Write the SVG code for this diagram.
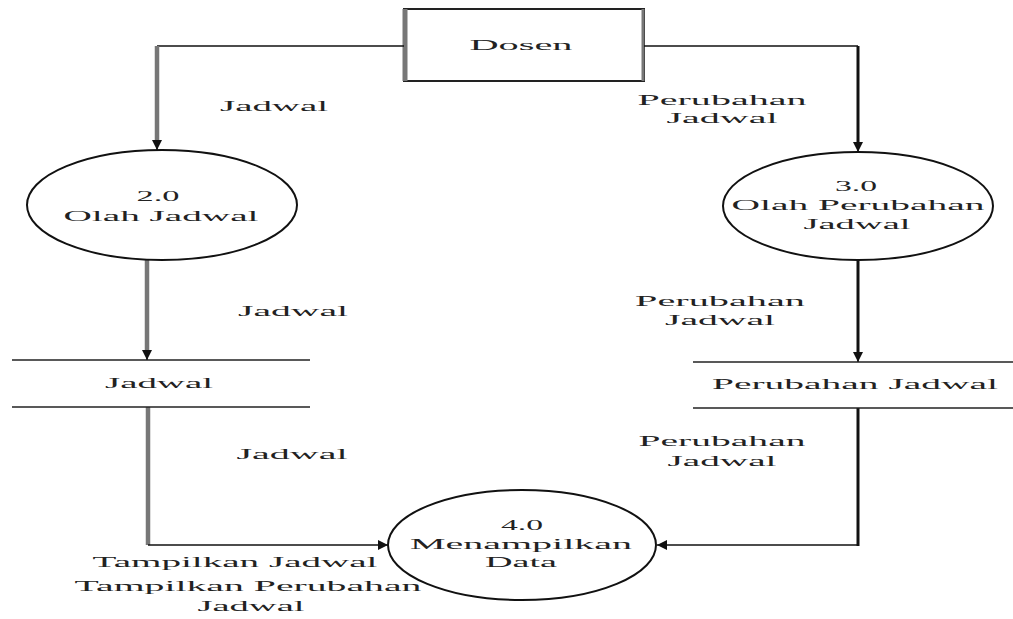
<svg xmlns="http://www.w3.org/2000/svg" width="1013" height="619" viewBox="0 0 1013 619">
  <style>
    text { font-family: "Liberation Serif", "Times New Roman", serif; font-size: 15px; fill: #222; text-anchor: middle; }
    .proc { fill: #fff; stroke: #111; stroke-width: 2; }
    .store { stroke: #222; stroke-width: 1.6; }
    .flow { fill: none; stroke: #111; stroke-width: 1.6; }
    .flow-grey { fill: none; stroke: #777; stroke-width: 4.5; }
    .flow-bold { fill: none; stroke: #111; stroke-width: 3; }
  </style>
  <defs>
    <marker id="arrow" viewBox="0 0 10 10" refX="10" refY="5" markerWidth="10" markerHeight="10" markerUnits="userSpaceOnUse" orient="auto">
      <path d="M0,0 L10,5 L0,10 z" fill="#111"/>
    </marker>
  </defs>

  <!-- external entity -->
  <g id="dosen">
    <rect x="404" y="9" width="240" height="72" fill="#fff" stroke="#222" stroke-width="2"/>
    <line x1="405" y1="9" x2="405" y2="81" stroke="#777" stroke-width="5"/>
    <line x1="643" y1="9" x2="643" y2="81" stroke="#777" stroke-width="3"/>
    <text x="521" y="50" textLength="103" lengthAdjust="spacingAndGlyphs">Dosen</text>
  </g>

  <!-- connectors -->
  <g id="connectors">
    <path class="flow" d="M404,46 H157"/>
    <path class="flow-grey" d="M157,46 V142"/>
    <path class="flow" d="M157,140 V150" marker-end="url(#arrow)"/>

    <path class="flow" d="M644,46 H858"/>
    <path class="flow-bold" d="M858,46 V144" />
    <path class="flow" d="M858,142 V152" marker-end="url(#arrow)"/>

    <path class="flow-grey" d="M147,260 V352"/>
    <path class="flow" d="M147,350 V360" marker-end="url(#arrow)"/>

    <path class="flow-bold" d="M858,260 V354"/>
    <path class="flow" d="M858,352 V362" marker-end="url(#arrow)"/>

    <path class="flow-grey" d="M148,407 V545"/>
    <path class="flow" d="M148,545 H388" marker-end="url(#arrow)"/>

    <path class="flow-bold" d="M858,408 V546"/>
    <path class="flow" d="M858,545 H657" marker-end="url(#arrow)"/>

    <!-- flow labels -->
    <text x="274" y="111" textLength="108" lengthAdjust="spacingAndGlyphs">Jadwal</text>
    <text x="722" y="105" textLength="169" lengthAdjust="spacingAndGlyphs">Perubahan</text>
    <text x="722" y="123" textLength="111" lengthAdjust="spacingAndGlyphs">Jadwal</text>
    <text x="293" y="316" textLength="110" lengthAdjust="spacingAndGlyphs">Jadwal</text>
    <text x="720" y="306" textLength="170" lengthAdjust="spacingAndGlyphs">Perubahan</text>
    <text x="720" y="325" textLength="110" lengthAdjust="spacingAndGlyphs">Jadwal</text>
    <text x="292" y="459" textLength="111" lengthAdjust="spacingAndGlyphs">Jadwal</text>
    <text x="722" y="446" textLength="167" lengthAdjust="spacingAndGlyphs">Perubahan</text>
    <text x="722" y="466" textLength="109" lengthAdjust="spacingAndGlyphs">Jadwal</text>
    <text x="235" y="567" textLength="285" lengthAdjust="spacingAndGlyphs">Tampilkan Jadwal</text>
    <text x="248" y="591" textLength="347" lengthAdjust="spacingAndGlyphs">Tampilkan Perubahan</text>
    <text x="251" y="611" textLength="107" lengthAdjust="spacingAndGlyphs">Jadwal</text>
  </g>

  <!-- processes -->
  <g id="proc-2">
    <ellipse class="proc" cx="162" cy="205" rx="135" ry="55"/>
    <text x="158" y="201" textLength="43" lengthAdjust="spacingAndGlyphs">2.0</text>
    <text x="161" y="221" textLength="195" lengthAdjust="spacingAndGlyphs">Olah Jadwal</text>
  </g>

  <g id="proc-3">
    <ellipse class="proc" cx="858" cy="206" rx="135" ry="54"/>
    <text x="856" y="191" textLength="42" lengthAdjust="spacingAndGlyphs">3.0</text>
    <text x="858" y="210" textLength="253" lengthAdjust="spacingAndGlyphs">Olah Perubahan</text>
    <text x="857" y="229" textLength="107" lengthAdjust="spacingAndGlyphs">Jadwal</text>
  </g>

  <g id="proc-4">
    <ellipse class="proc" cx="522" cy="545" rx="134" ry="55"/>
    <text x="522" y="530" textLength="42" lengthAdjust="spacingAndGlyphs">4.0</text>
    <text x="521" y="549" textLength="222" lengthAdjust="spacingAndGlyphs">Menampilkan</text>
    <text x="521" y="567" textLength="72" lengthAdjust="spacingAndGlyphs">Data</text>
  </g>

  <!-- data stores -->
  <g id="store-jadwal">
    <line class="store" x1="12" y1="360" x2="310" y2="360"/>
    <line class="store" x1="12" y1="407" x2="310" y2="407"/>
    <text x="159" y="388" textLength="108" lengthAdjust="spacingAndGlyphs">Jadwal</text>
  </g>

  <g id="store-perubahan">
    <line class="store" x1="693" y1="362" x2="1013" y2="362"/>
    <line class="store" x1="693" y1="408" x2="1013" y2="408"/>
    <text x="855" y="389" textLength="286" lengthAdjust="spacingAndGlyphs">Perubahan Jadwal</text>
  </g>
</svg>
